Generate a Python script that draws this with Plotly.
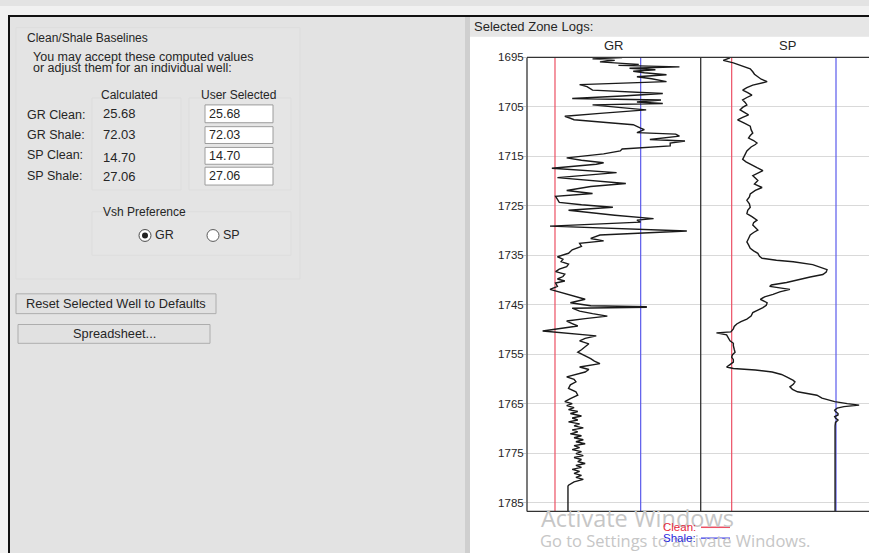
import plotly.graph_objects as go

W, H = 869, 553

def X(px):
    return px / W

def Y(py):
    return 1 - py / H

# ---------------- data ----------------
baseline_labels = ["GR Clean:", "GR Shale:", "SP Clean:", "SP Shale:"]
calculated = [25.68, 72.03, 14.70, 27.06]
user_selected = [25.68, 72.03, 14.70, 27.06]
gr_clean, gr_shale, sp_clean, sp_shale = user_selected

depth_ticks = [1695, 1705, 1715, 1725, 1735, 1745, 1755, 1765, 1775, 1785]
depth_top, depth_bottom = 1695.0, 1786.8
gr_range = [10.54, 104.5]
sp_range = [11.03, 30.97]

gr_depth = [1695.0, 1695.3, 1695.6, 1695.9, 1696.2, 1696.4, 1696.6, 1696.9, 1697.2, 1697.5,
            1697.8, 1698.1, 1698.5, 1698.9, 1699.3, 1699.9, 1700.5, 1700.9, 1701.6, 1702.3,
            1702.8, 1703.3, 1703.6, 1704.0, 1704.3, 1704.6, 1705.1, 1705.6, 1706.3, 1706.9,
            1707.3, 1707.6, 1708.2, 1708.6, 1709.3, 1709.6, 1710.2, 1710.5, 1710.9, 1711.3,
            1711.6, 1711.9, 1712.3, 1712.9, 1713.5, 1713.9, 1714.5, 1715.3, 1715.8, 1716.3,
            1716.6, 1717.4, 1718.3, 1719.3, 1720.5, 1721.1, 1721.9, 1722.5, 1723.1, 1724.3,
            1724.8, 1725.3, 1725.9, 1726.9, 1727.6, 1727.9, 1728.3, 1729.1, 1730.1, 1730.9,
            1731.6, 1732.1, 1732.6, 1733.2, 1733.9, 1734.6, 1735.3, 1735.8, 1736.3, 1736.8,
            1737.3, 1737.8, 1738.3, 1738.8, 1739.3, 1739.8, 1740.2, 1740.6, 1741.3, 1741.9,
            1742.6, 1743.3, 1743.9, 1744.6, 1745.2, 1745.4, 1745.5, 1745.7, 1746.3, 1746.8,
            1747.3, 1747.8, 1748.3, 1748.8, 1749.3, 1750.3, 1750.6, 1751.3, 1751.8, 1752.3,
            1752.9, 1753.6, 1754.1, 1754.6, 1755.3, 1755.9, 1756.4, 1756.9, 1757.6, 1758.1,
            1758.6, 1759.1, 1759.6, 1760.1, 1760.6, 1761.2, 1761.9, 1762.6, 1763.3, 1764.0,
            1764.6, 1765.0, 1765.4, 1765.8, 1766.2, 1766.6, 1767.0, 1767.5, 1767.9, 1768.3,
            1768.7, 1769.1, 1769.5, 1769.9, 1770.3, 1770.7, 1771.1, 1771.5, 1771.9, 1772.3,
            1772.7, 1773.1, 1773.5, 1773.9, 1774.3, 1774.7, 1775.1, 1775.5, 1775.9, 1776.3,
            1776.7, 1777.1, 1777.5, 1777.9, 1778.3, 1778.7, 1779.1, 1779.5, 1779.9, 1780.3,
            1780.8, 1781.5, 1781.7, 1786.8]
gr_value = [62, 46, 58, 50, 62, 71, 60, 93, 66, 80,
            68, 74, 86, 70, 78, 86, 39, 43, 46, 84,
            62, 35, 83, 70, 84, 46, 60, 75, 50, 31,
            34, 36, 55, 68, 72, 74, 70, 91, 93, 82,
            77, 96, 88, 88, 62, 61, 52, 32, 40, 52,
            48, 24, 59, 27, 64, 45, 32, 46, 26, 28,
            40, 57, 33, 58, 79, 70, 72, 23, 97, 50,
            45, 52, 39, 40, 35, 33, 27, 30, 29, 33,
            32, 28, 26, 31, 30, 27, 31, 26, 27, 23,
            30, 36, 42, 34, 45, 75, 75, 35, 39, 46,
            54, 42, 32, 35, 38, 19, 27, 48, 42, 39,
            44, 42, 40, 38, 42, 45, 47, 50, 39, 44,
            42, 37, 32, 36, 37, 34, 33, 37, 38, 34,
            31, 35, 32, 36, 33, 38, 34, 40, 35, 38,
            33, 39, 36, 41, 35, 38, 34, 40, 36, 41,
            37, 42, 36, 39, 35, 40, 37, 41, 36, 40,
            38, 42, 37, 40, 35, 39, 36, 40, 37, 41,
            36, 33, 32.7, 32.7]

sp_depth = [1695.1, 1695.6, 1696.1, 1696.6, 1697.3, 1697.9, 1698.4, 1698.9, 1699.4, 1699.9,
            1700.6, 1701.1, 1701.6, 1702.1, 1702.6, 1703.1, 1703.6, 1704.1, 1704.6, 1705.1,
            1705.6, 1706.1, 1706.6, 1707.1, 1707.6, 1708.3, 1708.9, 1709.6, 1710.3, 1710.8,
            1711.3, 1711.8, 1712.3, 1712.6, 1713.1, 1713.9, 1714.8, 1715.6, 1716.1, 1716.6,
            1717.3, 1717.9, 1718.4, 1718.9, 1719.4, 1719.9, 1720.6, 1721.3, 1721.9, 1722.6,
            1723.2, 1723.9, 1724.6, 1725.3, 1725.9, 1726.6, 1727.2, 1727.9, 1728.4, 1728.9,
            1729.4, 1729.9, 1730.4, 1730.9, 1731.6, 1732.3, 1732.9, 1733.6, 1734.1, 1734.6,
            1735.2, 1735.6, 1736.0, 1736.3, 1736.9, 1737.4, 1737.9, 1738.4, 1738.9, 1739.4,
            1739.9, 1740.5, 1741.0, 1741.3, 1741.9, 1742.4, 1742.9, 1743.4, 1743.9, 1744.6,
            1745.1, 1745.6, 1746.1, 1746.6, 1747.3, 1747.9, 1748.4, 1748.9, 1749.4, 1749.9,
            1750.5, 1750.7, 1751.1, 1751.7, 1752.3, 1752.8, 1753.3, 1754.0, 1754.6, 1755.1,
            1755.6, 1756.1, 1756.6, 1757.1, 1757.6, 1757.9, 1758.2, 1758.6, 1759.1, 1759.6,
            1759.9, 1760.3, 1760.6, 1761.1, 1761.6, 1762.1, 1762.6, 1763.0, 1763.3, 1763.9,
            1764.3, 1764.6, 1765.0, 1765.3, 1765.6, 1765.9, 1766.3, 1766.6, 1767.0, 1767.3,
            1767.6, 1767.9, 1768.3, 1768.8, 1769.5, 1786.8]
sp_value = [14.5, 13.7, 14.9, 15.7, 16.9, 17.2, 17.4, 17.8, 18.2, 18.9,
            17.2, 16.5, 16.0, 16.6, 17.1, 16.5, 16.0, 16.3, 16.5, 16.0,
            15.7, 16.2, 16.7, 16.0, 15.4, 16.2, 16.9, 17.0, 17.2, 16.9,
            16.7, 17.3, 17.7, 17.5, 17.0, 16.5, 16.2, 16.0, 16.4, 16.9,
            17.7, 18.4, 17.7, 17.2, 17.5, 17.8, 17.4, 18.3, 17.5, 16.9,
            16.8, 16.5, 16.8, 16.9, 16.6, 16.5, 17.1, 17.7, 17.3, 17.2,
            17.5, 17.8, 17.3, 16.9, 16.7, 16.5, 16.7, 16.9, 17.3, 17.8,
            18.0, 18.3, 20.0, 22.0, 24.3, 25.3, 26.0, 25.9, 25.5, 24.0,
            22.8, 21.2, 19.4, 19.2, 21.6, 20.4, 19.6, 18.6, 18.1, 18.9,
            18.8, 18.4, 17.8, 17.2, 17.0, 16.5, 15.8, 15.3, 15.0, 14.9,
            14.6, 12.9, 14.1, 14.3, 14.5, 14.9, 14.9, 15.0, 15.1, 14.8,
            14.7, 14.9, 14.9, 14.5, 14.1, 14.9, 17.5, 19.5, 20.6, 21.2,
            21.6, 22.0, 22.2, 22.0, 21.6, 21.9, 22.5, 23.8, 24.8, 25.4,
            26.2, 26.9, 28.4, 29.8, 28.0, 27.2, 26.9, 27.0, 27.3, 27.3,
            26.9, 27.0, 27.3, 27.0, 26.95, 26.95]

# ---------------- styles ----------------
FONT = "Liberation Sans, Arial, sans-serif"
TXT = "#262626"
RED = "rgb(236,80,100)"
BLUE = "rgb(90,90,235)"
CURVE = "#1a1a1a"

fig = go.Figure()

# baselines (clean / shale) and curves
fig.add_trace(go.Scatter(x=[gr_clean, gr_clean], y=[depth_top, depth_bottom], mode="lines",
                         line=dict(color=RED, width=1.2), xaxis="x", yaxis="y", hoverinfo="skip"))
fig.add_trace(go.Scatter(x=[gr_shale, gr_shale], y=[depth_top, depth_bottom], mode="lines",
                         line=dict(color=BLUE, width=1.2), xaxis="x", yaxis="y", hoverinfo="skip"))
fig.add_trace(go.Scatter(x=[sp_clean, sp_clean], y=[depth_top, depth_bottom], mode="lines",
                         line=dict(color=RED, width=1.2), xaxis="x2", yaxis="y", hoverinfo="skip"))
fig.add_trace(go.Scatter(x=[sp_shale, sp_shale], y=[depth_top, depth_bottom], mode="lines",
                         line=dict(color=BLUE, width=1.2), xaxis="x2", yaxis="y", hoverinfo="skip"))
fig.add_trace(go.Scatter(x=gr_value, y=gr_depth, mode="lines",
                         line=dict(color=CURVE, width=1.4), xaxis="x", yaxis="y", name="GR"))
fig.add_trace(go.Scatter(x=sp_value, y=sp_depth, mode="lines",
                         line=dict(color=CURVE, width=1.4), xaxis="x2", yaxis="y", name="SP"))

plot_l, plot_mid, plot_r = 527, 700.7, 869
plot_t, plot_b = 52, 511

fig.update_layout(
    width=W, height=H,
    margin=dict(l=0, r=0, t=0, b=0),
    paper_bgcolor="#e3e3e3",
    plot_bgcolor="white",
    showlegend=False,
    font=dict(family=FONT, color=TXT, size=11),
    xaxis=dict(domain=[X(plot_l), X(plot_mid)], range=gr_range, anchor="y",
               showticklabels=False, ticks="", showgrid=False, zeroline=False, fixedrange=True),
    xaxis2=dict(domain=[X(plot_mid), X(plot_r)], range=sp_range, anchor="y",
                showticklabels=False, ticks="", showgrid=False, zeroline=False, fixedrange=True),
    yaxis=dict(domain=[Y(plot_b), Y(plot_t)], range=[depth_bottom, depth_top], anchor="x",
               tickvals=depth_ticks, ticktext=[str(t) for t in depth_ticks],
               ticks="outside", ticklen=4, tickcolor="#c8c8c8", ticklabelstandoff=-4,
               showgrid=True, gridcolor="#d9d9d9", gridwidth=1, zeroline=False,
               showline=False, tickfont=dict(size=11.5, color=TXT, family=FONT)),
)

shapes = []

def rect(x0, y0, x1, y1, fill, line=None, lw=1, layer="above"):
    shapes.append(dict(type="rect", xref="paper", yref="paper",
                       x0=X(x0), x1=X(x1), y0=Y(y1), y1=Y(y0),
                       fillcolor=fill, line=dict(color=line or fill, width=lw if line else 0),
                       layer=layer))

def hline(x0, x1, y, color, lw=1, layer="above"):
    shapes.append(dict(type="line", xref="paper", yref="paper", x0=X(x0), x1=X(x1),
                       y0=Y(y), y1=Y(y), line=dict(color=color, width=lw), layer=layer))

def vline(x, y0, y1, color, lw=1, layer="above"):
    shapes.append(dict(type="line", xref="paper", yref="paper", x0=X(x), x1=X(x),
                       y0=Y(y0), y1=Y(y1), line=dict(color=color, width=lw), layer=layer))

# window chrome
rect(0, 0, W, 9, "#f1f1f1", layer="below")
rect(0, 0, 8, H, "#f1f1f1", layer="below")
# subtle group boxes on the left panel
rect(16, 22, 300, 276, "#e4e4e4", line="#dddddd", layer="below")
rect(92, 93, 181, 186, "#e5e5e5", line="#dddddd", layer="below")
rect(189, 93, 291, 186, "#e5e5e5", line="#dddddd", layer="below")
rect(92, 208, 291, 252, "#e5e5e5", line="#dddddd", layer="below")
# splitter and right panel
rect(465, 11, 470, H, "#cfcfcf", layer="below")
rect(470, 11, W, 31, "#e6e6e6", layer="below")
rect(470, 31, W, H, "white", layer="below")
hline(8, W, 10, "#111111", 2, layer="below")
vline(9, 10, H, "#111111", 2, layer="below")

# track frame
hline(plot_l, plot_r, plot_t, "#333333", 1.3)
hline(plot_l, plot_r, plot_b, "#333333", 1.3)
vline(plot_l, plot_t, plot_b, "#333333", 1.3)
vline(plot_mid, plot_t, plot_b, "#333333", 1.3)

# text boxes (user selected)
box_rows = [(100, 118), (122, 139), (143, 160), (163, 181)]
for (t, b) in box_rows:
    rect(205, t, 273, b, "white", line="#9c9c9c")

# radio buttons
shapes.append(dict(type="circle", xref="paper", yref="paper", x0=X(139), x1=X(151),
                   y0=Y(238), y1=Y(226), fillcolor="white", line=dict(color="#4a4a4a", width=1)))
shapes.append(dict(type="circle", xref="paper", yref="paper", x0=X(142), x1=X(148),
                   y0=Y(235), y1=Y(229), fillcolor="#222222", line=dict(color="#222222", width=0)))
shapes.append(dict(type="circle", xref="paper", yref="paper", x0=X(207), x1=X(219),
                   y0=Y(238), y1=Y(226), fillcolor="white", line=dict(color="#5a5a5a", width=1)))

# buttons
rect(16, 291, 216, 311, "#e1e1e1", line="#adadad")
rect(18, 322, 210, 341, "#e1e1e1", line="#adadad")

# legend lines
hline(701, 730, 527, RED, 1.5)
hline(701, 730, 538, BLUE, 1.5)

fig.update_layout(shapes=shapes)

ann = []

def txt(px, py, s, size=11, color=TXT, anchor="left", family=FONT):
    ann.append(dict(xref="paper", yref="paper", x=X(px), y=Y(py), text=s, showarrow=False,
                    xanchor=anchor, yanchor="middle", font=dict(size=size, color=color, family=family)))

# watermark (drawn first so the legend text sits on top)
txt(539, 518, "Activate Windows", 23.5, color="#c6c6c6", family="Open Sans, sans-serif")
txt(538, 540, "Go to Settings to activate Windows.", 16.5, color="#c6c6c6", family="Open Sans, sans-serif")

txt(25, 32, "Clean/Shale Baselines", 12)
txt(31, 52, "You may accept these computed values", 12.5)
txt(31, 63, "or adjust them for an individual well:", 12.5)
txt(99, 90, "Calculated", 12)
txt(199, 90, "User Selected", 12)
label_y = [110, 130, 151, 172]
value_y = [109, 130, 153, 172]
box_y = [109, 130.5, 151.5, 172]
for lab, cv, uv, ly, vy, by in zip(baseline_labels, calculated, user_selected, label_y, value_y, box_y):
    txt(25, ly, lab, 12.5)
    txt(101, vy, f"{cv:.2f}", 13)
    txt(207, by, f"{uv:.2f}", 12.5)
txt(101, 208, "Vsh Preference", 12)
txt(153, 232, "GR", 12.5)
txt(221, 232, "SP", 12.5)
txt(116, 301, "Reset Selected Well to Defaults", 12.8, anchor="center")
txt(114, 331.5, "Spreadsheet...", 12.8, anchor="center")

txt(472, 21, "Selected Zone Logs:", 13)
txt((plot_l + plot_mid) / 2, 40, "GR", 13, anchor="center")
txt((plot_mid + 875) / 2, 40, "SP", 13, anchor="center")

# legend texts
txt(698, 527, "Clean:", 11.5, color="rgb(230,40,60)", anchor="right")
txt(698, 538, "Shale:", 11.5, color="rgb(40,40,220)", anchor="right")

fig.update_layout(annotations=ann)

fig.write_html(
    "out.html",
    config={"displayModeBar": False},
    post_script="document.body.style.margin='0';document.body.style.overflow='hidden';"
                "document.documentElement.style.overflow='hidden';",
)
